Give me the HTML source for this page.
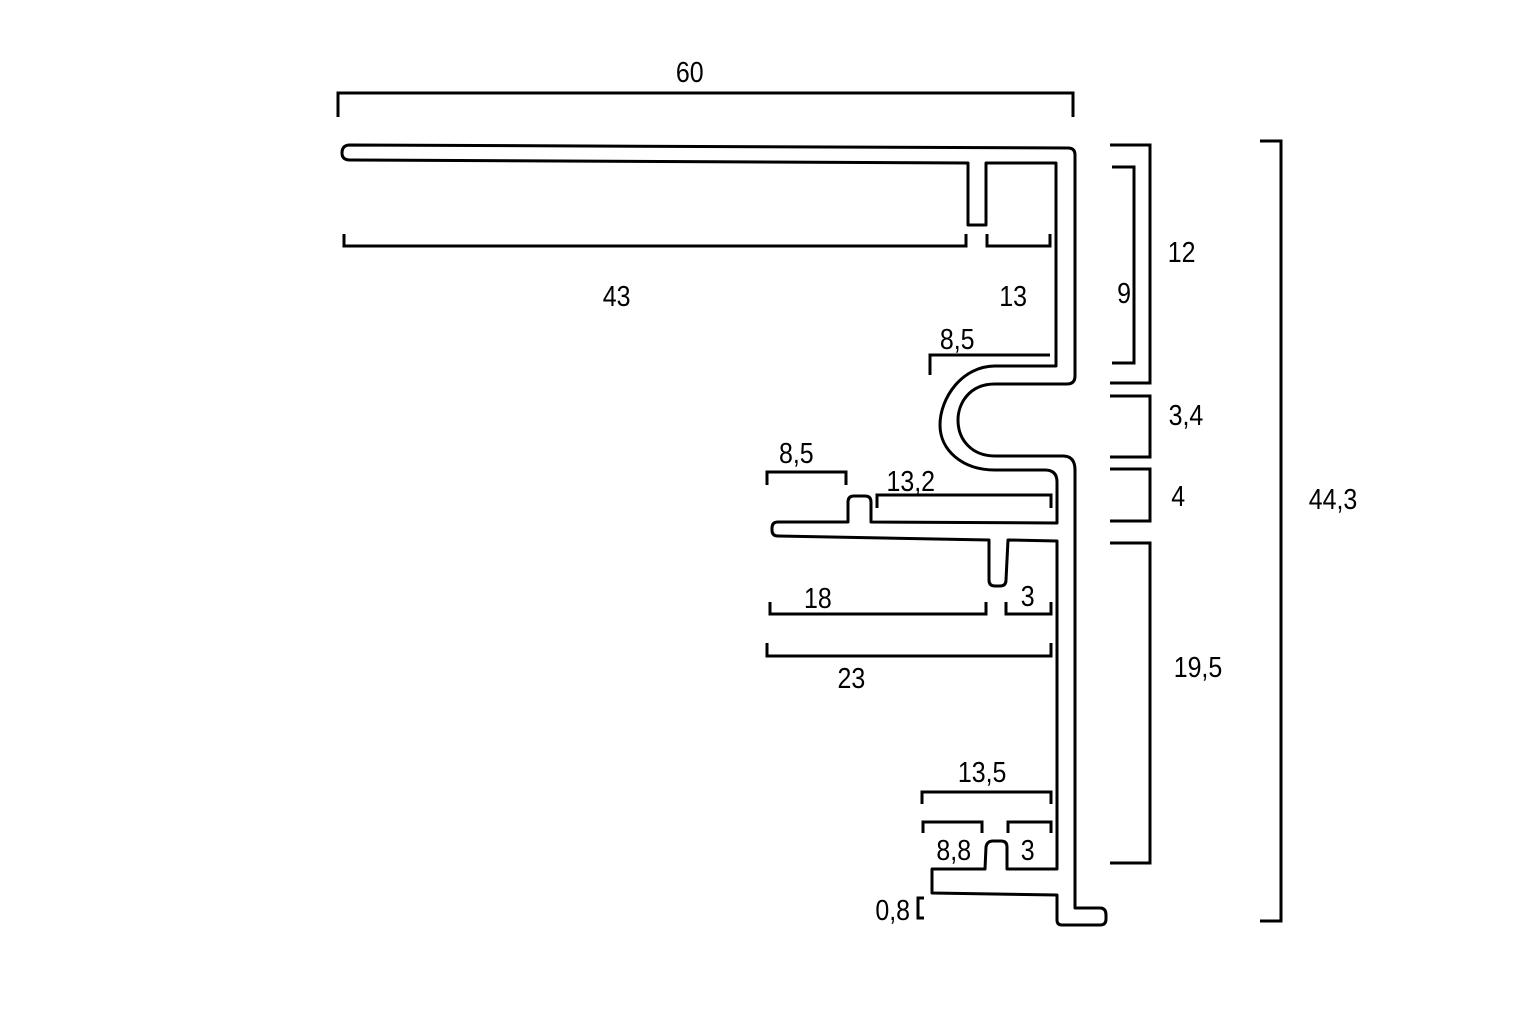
<!DOCTYPE html>
<html><head><meta charset="utf-8"><style>html,body{margin:0;padding:0;background:#fff}svg{display:block}</style></head>
<body>
<svg width="1536" height="1024" viewBox="0 0 1536 1024" xmlns="http://www.w3.org/2000/svg">
<rect width="1536" height="1024" fill="#fff"/>
<path d="M350,145 L1068,148 Q1075,148 1075,155 L1075,376 Q1075,384 1067,384 L995,384 C968,384 958,405 958,420 C958,440 972,456 995,456 L1063,456 Q1075,456 1075,470 L1075,908 L1100,908 Q1106,908 1106,915 L1106,919 Q1106,925 1100,925 L1062,925 Q1057,925 1057,920 L1057,895 L932,893 L932,869 L985,869 L986,847 Q987,841 993,841 L1001,841 Q1007,841 1007,847 L1007,869 L1057,869 L1057,541 L1008,540 L1006,580 Q1006,586 1000,586 L995,586 Q989,586 989,580 L989,540 L778,536 Q772,536 772,530 L772,528 Q772,522 778,522 L848,522 L848,502 Q848,496 854,496 L865,496 Q871,496 871,502 L871,522 L1057,523 L1057,482 Q1057,470 1045,470 L995,470 C962,470 940,450 940,425 C940,398 962,366 995,366 L1056,366 L1056,163 L986,163 L986,225 L968,225 L968,163 L350,160 Q342,160 342,153 Q342,145 350,145 Z" fill="#fff" stroke="#000" stroke-width="3" stroke-linejoin="round"/>
<g fill="none" stroke="#000" stroke-width="3">
<path d="M338,117 V93 H1073 V117"/>
<path d="M344,234 V246 H966 V234"/>
<path d="M987,234 V246 H1050 V234"/>
<path d="M930,375 V355 H1050"/>
<path d="M1110,145 H1150 V383 H1110"/>
<path d="M1112,167 H1134 V363 H1112"/>
<path d="M1110,396 H1150 V457 H1110"/>
<path d="M1110,469 H1150 V521 H1110"/>
<path d="M1110,543 H1150 V863 H1110"/>
<path d="M1260,141 H1281 V921 H1260"/>
<path d="M767,485 V472 H846 V485"/>
<path d="M877,508 V495 H1051 V508"/>
<path d="M770,602 V614 H986 V602"/>
<path d="M1006,602 V614 H1051 V602"/>
<path d="M767,643 V656 H1051 V643"/>
<path d="M922,804 V792 H1051 V804"/>
<path d="M923,833 V822 H982 V833"/>
<path d="M1008,833 V822 H1051 V833"/>
<path d="M924,898 H918 V918 H924"/>
</g>
<g font-family="Liberation Sans, sans-serif" font-size="29" text-anchor="middle" fill="#000" transform="scale(0.86,1)">
<text x="802" y="82">60</text>
<text x="717" y="306">43</text>
<text x="1178" y="306">13</text>
<text x="1113" y="349">8,5</text>
<text x="1374" y="262">12</text>
<text x="1307" y="303">9</text>
<text x="1379" y="425">3,4</text>
<text x="1370" y="506">4</text>
<text x="1393" y="677">19,5</text>
<text x="1550" y="509">44,3</text>
<text x="926" y="463">8,5</text>
<text x="1059" y="491">13,2</text>
<text x="951" y="608">18</text>
<text x="1195" y="606">3</text>
<text x="990" y="688">23</text>
<text x="1142" y="782">13,5</text>
<text x="1109" y="860">8,8</text>
<text x="1195" y="860">3</text>
<text x="1038" y="920">0,8</text>
</g>
</svg>
</body></html>
